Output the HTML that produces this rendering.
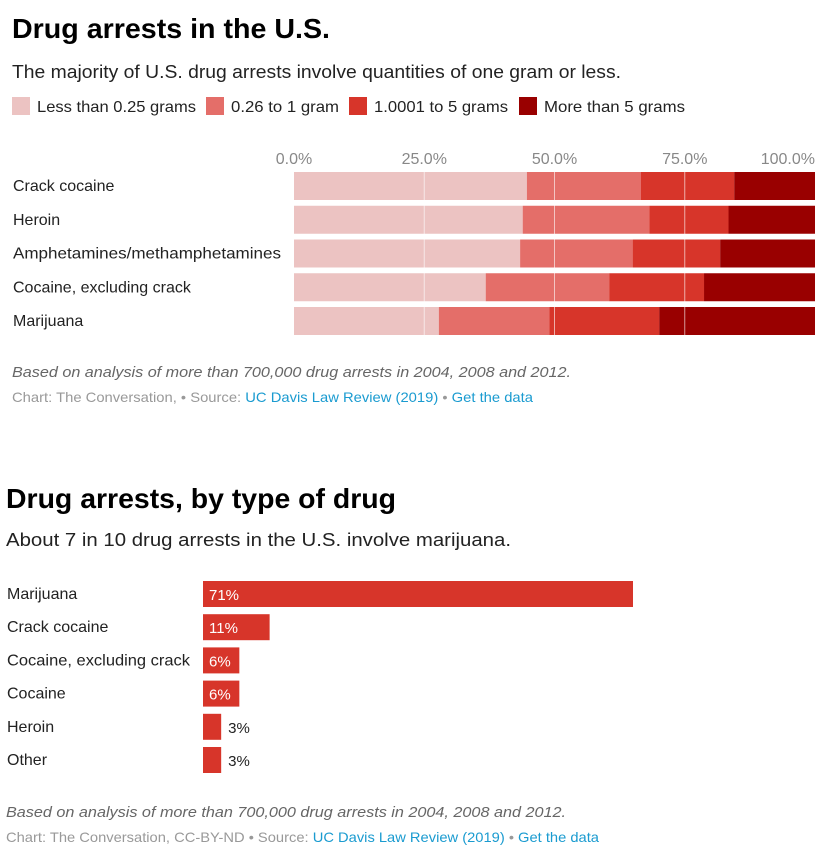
<!DOCTYPE html>
<html><head><meta charset="utf-8"><style>
html,body{margin:0;padding:0;background:#fff;}
svg{display:block;font-family:"Liberation Sans",sans-serif;}
</style></head><body>
<svg id="s" width="826" height="867" viewBox="0 0 826 867" xmlns="http://www.w3.org/2000/svg">
<text x="12" y="38" font-size="28" font-weight="bold" fill="#000" textLength="318" lengthAdjust="spacingAndGlyphs">Drug arrests in the U.S.</text>
<text x="12" y="78" font-size="18" fill="#222" textLength="609" lengthAdjust="spacingAndGlyphs">The majority of U.S. drug arrests involve quantities of one gram or less.</text>
<g id="legend"></g>
<g id="c1"></g>
<text x="12" y="377" font-size="15" font-style="italic" fill="#666" textLength="559" lengthAdjust="spacingAndGlyphs">Based on analysis of more than 700,000 drug arrests in 2004, 2008 and 2012.</text>
<text x="12" y="402" font-size="14" fill="#999" textLength="521" lengthAdjust="spacingAndGlyphs">Chart: The Conversation, • Source: <tspan fill="#1a9bd0">UC Davis Law Review (2019)</tspan> • <tspan fill="#1a9bd0">Get the data</tspan></text>
<text x="6" y="508" font-size="28" font-weight="bold" fill="#000" textLength="390" lengthAdjust="spacingAndGlyphs">Drug arrests, by type of drug</text>
<text x="6" y="546" font-size="18" fill="#222" textLength="505" lengthAdjust="spacingAndGlyphs">About 7 in 10 drug arrests in the U.S. involve marijuana.</text>
<g id="c2"></g>
<text x="6" y="817" font-size="15" font-style="italic" fill="#666" textLength="560" lengthAdjust="spacingAndGlyphs">Based on analysis of more than 700,000 drug arrests in 2004, 2008 and 2012.</text>
<text x="6" y="842" font-size="14" fill="#999" textLength="593" lengthAdjust="spacingAndGlyphs">Chart: The Conversation, CC-BY-ND • Source: <tspan fill="#1a9bd0">UC Davis Law Review (2019)</tspan> • <tspan fill="#1a9bd0">Get the data</tspan></text>
</svg>
<script>
const NS="http://www.w3.org/2000/svg";
const legendLabels=["Less than 0.25 grams","0.26 to 1 gram","1.0001 to 5 grams","More than 5 grams"];
const drugs1=["Crack cocaine","Heroin","Amphetamines/methamphetamines","Cocaine, excluding crack","Marijuana"];
const sLess025=[44.7,43.9,43.4,36.8,27.8];
const s026to1=[21.9,24.3,21.6,23.7,21.2];
const s1to5=[17.9,15.2,16.8,18.2,21.1];
const sMore5=[15.5,16.6,18.2,21.3,29.9];
const ticks1=[0,25,50,75,100];
const drugs2=["Marijuana","Crack cocaine","Cocaine, excluding crack","Cocaine","Heroin","Other"];
const share2=[71,11,6,6,3,3];

const colors=["#ecc3c2","#e46e69","#d7352a","#990000"];
function mk(tag,attrs,parent,txt){const e=document.createElementNS(NS,tag);for(const k in attrs)e.setAttribute(k,attrs[k]);if(txt!=null)e.textContent=txt;parent.appendChild(e);return e;}

const lg=document.getElementById("legend");
const lgX=[12,206,349,519],lgW=[159,108,134,141];
legendLabels.forEach((l,i)=>{
  const r=mk("rect",{x:lgX[i],y:97,width:18,height:18,fill:colors[i]},lg);
  
  
  const t=mk("text",{x:lgX[i]+25,y:112,"font-size":16,fill:"#222",textLength:lgW[i],lengthAdjust:"spacingAndGlyphs"},lg,l);
  
  
});

const c1=document.getElementById("c1");
const x0=294,x1=815;
const xs=v=>x0+(x1-x0)*v/100;
const series=[sLess025,s026to1,s1to5,sMore5];
ticks1.forEach((t,i)=>{
  const last=i===ticks1.length-1;
  const e=mk("text",{x:last?x1:xs(t),y:164,"font-size":16,fill:"#888","text-anchor":last?"end":"middle"},c1,t.toFixed(1)+"%");
  
  
});
drugs1.forEach((d,i)=>{
  const y=172+i*33.75;
  const lab=mk("text",{x:13,y:y+19,"font-size":16,fill:"#222"},c1,d);
  
  
  if(d.length>25){lab.setAttribute("textLength",268);lab.setAttribute("lengthAdjust","spacingAndGlyphs");}
  let acc=0;
  series.forEach((s,j)=>{
    const r=mk("rect",{x:xs(acc),y:y,width:xs(acc+s[i])-xs(acc),height:28,fill:colors[j]},c1);
    
    
    acc+=s[i];
  });
});
[25,50,75].forEach(t=>{
  const l=mk("line",{x1:xs(t),x2:xs(t),y1:170,y2:337,stroke:"#fff","stroke-opacity":0.6,"stroke-width":1},c1);
  
  
});

const c2=document.getElementById("c2");
const bx=203,pxPer=430/71;
const xb=v=>bx+v*pxPer;
drugs2.forEach((d,i)=>{
  const y=581+i*33.2;
  const lab=mk("text",{x:7,y:y+18,"font-size":16,fill:"#222"},c2,d);
  
  
  if(d.length>20){lab.setAttribute("textLength",183);lab.setAttribute("lengthAdjust","spacingAndGlyphs");}
  const r=mk("rect",{x:bx,y:y,width:xb(share2[i])-bx,height:26,fill:"#d7352a"},c2);
  
  
  const w=xb(share2[i])-bx;
  const inside=w>30;
  const v=mk("text",{x:inside?bx+6:xb(share2[i])+7,y:y+19,"font-size":15,fill:inside?"#fff":"#222"},c2,share2[i]+"%");
  
  
});
</script>
</body></html>
